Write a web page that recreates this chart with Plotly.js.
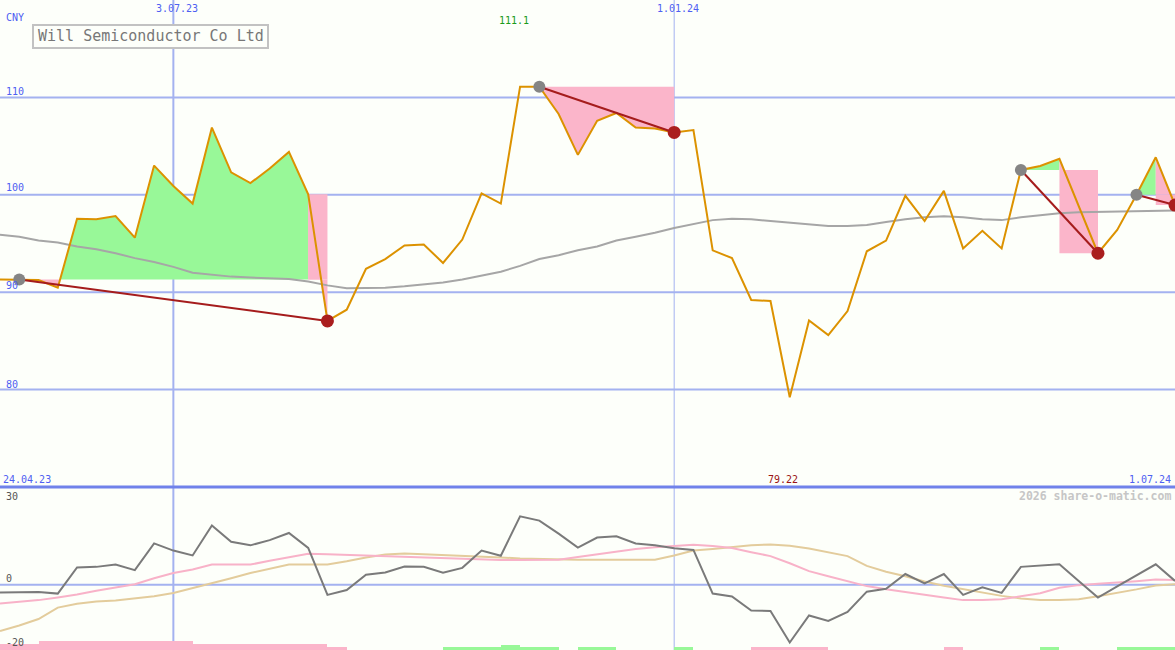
<!DOCTYPE html>
<html><head><meta charset="utf-8">
<script src="https://cdn.plot.ly/plotly-3.0.1.min.js"></script>
<style>html,body{margin:0;padding:0;background:#fdfffa;} #chart{width:1175px;height:650px;}</style>
</head><body><div id="chart"></div>
<script>
// ---------- data ----------
const dates = ['2023-05-01','2023-05-08','2023-05-15','2023-05-22','2023-05-29','2023-06-05','2023-06-12','2023-06-19','2023-06-26','2023-07-03',
'2023-07-10','2023-07-17','2023-07-24','2023-07-31','2023-08-07','2023-08-14','2023-08-21','2023-08-28','2023-09-04','2023-09-11',
'2023-09-18','2023-09-25','2023-10-02','2023-10-09','2023-10-16','2023-10-23','2023-10-30','2023-11-06','2023-11-13','2023-11-20',
'2023-11-27','2023-12-04','2023-12-11','2023-12-18','2023-12-25','2024-01-01','2024-01-08','2024-01-15','2024-01-22','2024-01-29',
'2024-02-05','2024-02-12','2024-02-19','2024-02-26','2024-03-04','2024-03-11','2024-03-18','2024-03-25','2024-04-01','2024-04-08',
'2024-04-15','2024-04-22','2024-04-29','2024-05-06','2024-05-13','2024-05-20','2024-05-27','2024-06-03','2024-06-10','2024-06-17',
'2024-06-24','2024-07-01'];
const price = [91.3,91.3,91.25,90.46,97.55,97.48,97.82,95.6,103.0,100.9,
99.1,106.9,102.3,101.2,102.7,104.4,100.05,87.05,88.2,92.4,
93.4,94.8,94.9,93.0,95.4,100.15,99.1,111.1,111.1,108.3,
104.1,107.6,108.4,106.9,106.8,106.4,106.65,94.3,93.5,89.2,
89.1,79.22,87.1,85.6,88.07,94.2,95.3,99.9,97.3,100.4,
94.5,96.3,94.5,102.55,102.96,103.7,98.75,94.0,96.4,100.0,
103.85,98.95];
const movingAvg = [95.9,95.7,95.3,95.1,94.7,94.4,94.0,93.5,93.1,92.6,
92.0,91.8,91.6,91.5,91.4,91.35,91.1,90.7,90.4,90.4,
90.45,90.6,90.8,91.0,91.3,91.7,92.1,92.7,93.4,93.8,
94.3,94.7,95.3,95.7,96.1,96.6,97.0,97.4,97.55,97.5,
97.3,97.15,96.95,96.8,96.8,96.9,97.2,97.5,97.7,97.8,
97.7,97.5,97.4,97.7,97.9,98.1,98.2,98.25,98.3,98.35,
98.4,98.4];
const oscGrey = [-2.4,-2.3,-2.2,-2.7,5.3,5.5,6.2,4.5,12.7,10.5,
9.0,18.2,13.2,12.1,13.7,15.9,11.3,-3.1,-1.6,3.1,
3.8,5.6,5.5,3.7,5.2,10.5,8.9,21.0,19.7,15.7,
11.4,14.5,14.9,12.7,12.1,11.2,10.7,-2.7,-3.6,-7.9,
-8.0,-17.7,-9.4,-11.1,-8.3,-2.1,-1.2,3.3,0.4,3.3,
-3.1,-0.8,-2.5,5.5,5.8,6.3,1.2,-3.9,-0.5,2.8,
6.3,1.2];
const oscPink = [-5.7,-5.2,-4.7,-3.9,-3.0,-1.8,-0.8,0.2,2.0,3.6,
4.7,6.2,6.2,6.2,7.4,8.4,9.5,9.4,9.2,9.0,
8.8,8.5,8.3,8.1,7.9,7.7,7.6,7.6,7.6,7.7,
8.5,9.4,10.3,11.0,11.5,12.0,12.3,11.9,11.3,10.0,
8.8,6.6,4.2,2.6,1.0,-0.4,-1.4,-2.3,-3.2,-3.9,
-4.7,-4.7,-4.4,-3.5,-2.6,-0.9,-0.1,0.3,0.6,1.1,
1.6,1.5];
const oscTan = [-14.2,-12.5,-10.5,-7.0,-5.8,-5.1,-4.8,-4.1,-3.5,-2.5,
-1.0,0.3,2.0,3.6,5.0,6.2,6.2,6.2,7.2,8.4,
9.3,9.6,9.4,9.2,9.0,8.7,8.4,8.1,7.9,7.8,
7.7,7.7,7.7,7.7,7.7,9.0,10.5,11.0,11.6,12.1,
12.4,12.0,11.1,10.0,8.8,5.8,4.0,2.6,1.0,-0.3,
-1.4,-2.4,-3.4,-4.2,-4.7,-4.7,-4.4,-3.5,-2.5,-1.4,
-0.2,0.2];
// signed bar strength: positive = green, negative = pink
const barSignal = [-1.85,-1.85,-2.9,-2.9,-2.9,-2.9,-2.9,-2.9,-2.9,-2.9,
-1.85,-1.85,-1.85,-1.85,-1.85,-1.85,-1.85,-0.9,0,0,
0,0,0,0.8,0.8,0.8,1.5,0.8,0.8,0,
0.8,0.8,0,0,0,0.8,0,0,0,-0.8,
-0.8,-0.8,-0.8,0,0,0,0,0,0,-0.8,
0,0,0,0,0.8,0,0,0,0.8,0.8,
0.8,0];
const trendStart = [1, 28, 53, 59];
const trendEnd = [17, 35, 57, 61];
const trendBlock = ['above', 'none', 'below', 'below'];
const priceTicks = [110, 100, 90, 80];
const priceTickLabels = ['110', '100', '90', '80'];
const oscTicks = [30, 0, -20];
const oscTickLabels = ['30', '0', '-20'];
const dateMarks = ['2023-07-03', '2024-01-01'];
const dateMarkLabels = ['3.07.23', '1.01.24'];
const maxLabel = '111.1', minLabel = '79.22';
const firstDateLabel = '24.04.23', lastDateLabel = '1.07.24';

// ---------- styles ----------
const BG = '#fdfffa', GRID = '#a4b2f0', ORANGE = '#dc9200', TREND = '#a51c1c';
const GREEN = '#98f898', PINK = '#fbb5ca', MONO = 'DejaVu Sans Mono, monospace';
const W = 1175, H = 650, SPLIT = 487;
const py = p => 1 - p / H, px = p => p / W;
const splitFrac = 1 - SPLIT / H;

const X = dates.map(d => Date.parse(d));
function path(i0, i1, L) {
  const pts = [];
  for (let i = i0; i <= i1; i++) {
    pts.push([X[i], price[i]]);
    if (i < i1) {
      const a = price[i] - L, b = price[i + 1] - L;
      if (a * b < 0) { const t = a / (a - b); pts.push([X[i] + t * (X[i + 1] - X[i]), L]); }
    }
  }
  return pts;
}
function poly(i0, i1, L, fn) {
  const pts = path(i0, i1, L).map(([x, y]) => [x, fn(y, L)]);
  pts.push([X[i1], L], [X[i0], L], pts[0]);
  return { x: pts.map(p => p[0]), y: pts.map(p => p[1]) };
}
function rect(i0, i1, y0, y1) {
  return { x: [X[i0], X[i1], X[i1], X[i0], X[i0]], y: [y0, y0, y1, y1, y0] };
}
function fillTrace(p, color) {
  return { type: 'scatter', mode: 'none', x: p.x, y: p.y, fill: 'toself', fillcolor: color,
           line: { width: 0 }, hoverinfo: 'skip', xaxis: 'x', yaxis: 'y' };
}

const traces = [];
trendStart.forEach((s, j) => {
  const e = trendEnd[j], L = price[s];
  let k = s;
  for (let i = s; i <= e; i++) if (price[i] >= L) k = i;
  traces.push(fillTrace(poly(s, k, L, Math.max), GREEN));
  traces.push(fillTrace(poly(s, k, L, Math.min), PINK));
  traces.push(fillTrace(poly(k, e, L, Math.max), PINK));
  traces.push(fillTrace(poly(k, e, L, Math.min), PINK));
  if (trendBlock[j] === 'above') traces.push(fillTrace(rect(k, e, L, price[k]), PINK));
  if (trendBlock[j] === 'below') traces.push(fillTrace(rect(k, e, price[e], L), PINK));
});

// bars in lower panel
traces.push({ type: 'bar', x: dates, y: barSignal.map(v => Math.abs(v)), base: -20,
  offset: 0, width: 7 * 86400000, marker: { color: barSignal.map(v => v < 0 ? PINK : GREEN), line: { width: 0 } },
  xaxis: 'x', yaxis: 'y2', hoverinfo: 'skip' });

traces.push({ type: 'scatter', mode: 'lines', x: dates, y: movingAvg, line: { color: '#a6a6a6', width: 2 }, yaxis: 'y' });
traces.push({ type: 'scatter', mode: 'lines', x: dates, y: price, line: { color: ORANGE, width: 2 }, yaxis: 'y' });

trendStart.forEach((s, j) => {
  const e = trendEnd[j];
  traces.push({ type: 'scatter', mode: 'lines', x: [dates[s], dates[e]], y: [price[s], price[e]],
    line: { color: TREND, width: 2 }, yaxis: 'y' });
});
traces.push({ type: 'scatter', mode: 'markers', x: trendStart.map(i => dates[i]), y: trendStart.map(i => price[i]),
  marker: { color: '#858585', size: 12 }, yaxis: 'y' });
traces.push({ type: 'scatter', mode: 'markers', x: trendEnd.map(i => dates[i]), y: trendEnd.map(i => price[i]),
  marker: { color: '#aa1e1e', size: 13 }, yaxis: 'y' });

traces.push({ type: 'scatter', mode: 'lines', x: dates, y: oscTan, line: { color: '#e3cc9c', width: 2 }, xaxis: 'x', yaxis: 'y2' });
traces.push({ type: 'scatter', mode: 'lines', x: dates, y: oscPink, line: { color: '#f8b2c8', width: 2 }, xaxis: 'x', yaxis: 'y2' });
traces.push({ type: 'scatter', mode: 'lines', x: dates, y: oscGrey, line: { color: '#7a7a7a', width: 2 }, xaxis: 'x', yaxis: 'y2' });

// ---------- shapes ----------
const shapes = [];
priceTicks.forEach(v => shapes.push({ type: 'line', xref: 'paper', x0: 0, x1: 1, yref: 'y', y0: v, y1: v,
  line: { color: GRID, width: 2 }, layer: 'below' }));
shapes.push({ type: 'line', xref: 'paper', x0: 0, x1: 1, yref: 'y2', y0: 0, y1: 0, line: { color: GRID, width: 2 }, layer: 'below' });
shapes.push({ type: 'line', xref: 'x', x0: dateMarks[0], x1: dateMarks[0], yref: 'paper', y0: 0, y1: 1,
  line: { color: GRID, width: 2 }, layer: 'below' });
shapes.push({ type: 'line', xref: 'x', x0: dateMarks[1], x1: dateMarks[1], yref: 'paper', y0: 0, y1: 1,
  line: { color: GRID, width: 1 }, layer: 'below' });
shapes.push({ type: 'line', xref: 'paper', x0: 0, x1: 1, yref: 'paper', y0: splitFrac, y1: splitFrac,
  line: { color: '#7082ea', width: 3 }, layer: 'above' });
// title box
shapes.push({ type: 'rect', xref: 'paper', yref: 'paper', x0: px(33), x1: px(268), y0: py(48), y1: py(25),
  line: { color: '#c2c2c2', width: 2 }, fillcolor: BG, layer: 'above' });

// ---------- annotations ----------
const ann = [];
function txt(text, x, y, color, size, xanchor, extra) {
  ann.push(Object.assign({ text, xref: 'paper', yref: 'paper', x: px(x), y: py(y), xanchor: xanchor || 'left',
    yanchor: 'middle', showarrow: false, font: { family: MONO, size: size || 10, color } }, extra || {}));
}
const BLUE = '#4e60f2';
txt('CNY', 4, 18, BLUE, 10);
const tickPix = [91, 188, 285, 384];
priceTicks.forEach((v, i) => txt(priceTickLabels[i], 4, tickPix[i], BLUE, 10));
txt(dateMarkLabels[0], 177, 9, BLUE, 10, 'center');
txt(dateMarkLabels[1], 678, 9, BLUE, 10, 'center');
txt(maxLabel, 514, 21, '#1a9a1a', 10, 'center');
txt(firstDateLabel, 1, 479, BLUE, 10);
txt(minLabel, 783, 479, '#9a1414', 10, 'center');
txt(lastDateLabel, 1173, 479, BLUE, 10, 'right');
txt('<b>2026 share-o-matic.com</b>', 1173, 496, '#c6c6c6', 11.5, 'right');
const oscPix = [496, 578, 642];
oscTicks.forEach((v, i) => txt(oscTickLabels[i], 4, oscPix[i], '#555555', 10));
txt('Will Semiconductor Co Ltd', 150.5, 36.5, '#777777', 15, 'center');

const axisOff = { showgrid: false, zeroline: false, showticklabels: false, ticks: '', showline: false };
const layout = {
  width: W, height: H, margin: { l: 0, r: 0, t: 0, b: 0, pad: 0 },
  paper_bgcolor: BG, plot_bgcolor: BG, showlegend: false, bargap: 0,
  xaxis: Object.assign({ type: 'date', range: [dates[0], dates[dates.length - 1]] }, axisOff),
  yaxis: Object.assign({ domain: [splitFrac, 1], range: [70, 120] }, axisOff),
  yaxis2: Object.assign({ domain: [0, splitFrac], range: [-20, 30], anchor: 'x' }, axisOff),
  shapes, annotations: ann
};
Plotly.newPlot('chart', traces, layout, { displayModeBar: false, staticPlot: true });
</script></body></html>
